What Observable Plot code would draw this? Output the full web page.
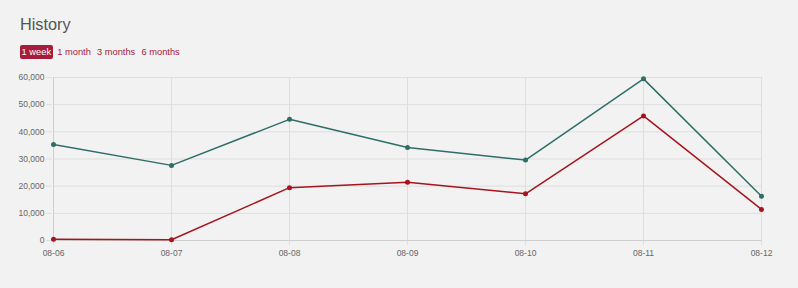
<!DOCTYPE html>
<html>
<head>
<meta charset="utf-8">
<script src="https://cdn.jsdelivr.net/npm/d3@7"></script>
<script src="https://cdn.jsdelivr.net/npm/@observablehq/plot@0.6"></script>
<style>
  html, body { margin: 0; padding: 0; background: #f2f2f2; }
  body { width: 798px; height: 288px; overflow: hidden; font-family: "Liberation Sans", Arial, Helvetica, sans-serif; }
  #header { height: 65px; position: relative; }
  #title { position: absolute; left: 20px; top: 16px; font-size: 16.3px; line-height: 16px; color: #555; font-weight: normal; }
  #buttons { position: absolute; left: 20px; top: 44.5px; font-size: 9.3px; display: flex; }
  #buttons span { color: #a51c3c; padding: 0 1.6px; margin-right: 3px; border-radius: 2px; height: 14.5px; line-height: 14.5px; }
  #buttons span.active { background: #a51c3c; color: #fff; }
  svg { display: block; }
</style>
</head>
<body>
<div id="header">
  <div id="title">History</div>
  <div id="buttons"></div>
</div>
<div id="chart"></div>
<script>
const dates = ["08-06", "08-07", "08-08", "08-09", "08-10", "08-11", "08-12"];
const seriesTotal = [35300, 27650, 44600, 34200, 29600, 59500, 16300];
const seriesRed = [480, 260, 19450, 21400, 17200, 45850, 11450];
const yTicks = [0, 10000, 20000, 30000, 40000, 50000, 60000];
const rangeLabels = ["1 week", "1 month", "3 months", "6 months"];

const btns = document.getElementById("buttons");
rangeLabels.forEach((t, i) => {
  const s = document.createElement("span");
  s.textContent = t;
  if (i === 0) s.className = "active";
  btns.appendChild(s);
});

const data = [];
dates.forEach((d, i) => {
  data.push({date: d, value: seriesTotal[i], series: "total"});
  data.push({date: d, value: seriesRed[i], series: "red"});
});

const colors = {total: "#2e6e66", red: "#a6151e"};

const chart = Plot.plot({
  width: 798,
  height: 223,
  marginTop: 12,
  marginBottom: 48,
  marginLeft: 52,
  marginRight: 36,
  style: {background: "transparent", fontFamily: "'Liberation Sans', Arial, sans-serif", fontSize: "8.5px", color: "#666"},
  x: {type: "point", domain: dates, padding: 0},
  y: {domain: [0, 60000]},
  marks: [
    Plot.ruleY(yTicks, {y: d => d, x1: () => dates[0], x2: () => dates[dates.length - 1], stroke: "#dedede", strokeWidth: 1}),
    Plot.ruleX(dates, {x: d => d, y1: 0, y2: 60000, stroke: "#dedede", strokeWidth: 1}),
    Plot.axisY({ticks: yTicks, tickFormat: d3.format(","), tickSize: 6, tickPadding: 2, stroke: "#dedede", fill: "#666", label: null}),
    Plot.axisX({tickSize: 5, tickPadding: 4, stroke: "#dedede", fill: "#666", label: null}),
    Plot.ruleX([dates[0]], {y1: 0, y2: 60000, stroke: "#cfcfcf"}),
    Plot.ruleY([0], {stroke: "#cfcfcf"}),
    Plot.line(data, {x: "date", y: "value", z: "series", stroke: d => colors[d.series], strokeWidth: 1.5}),
    Plot.dot(data, {x: "date", y: "value", fill: d => colors[d.series], r: 2.5})
  ]
});
document.getElementById("chart").appendChild(chart);
</script>
</body>
</html>
